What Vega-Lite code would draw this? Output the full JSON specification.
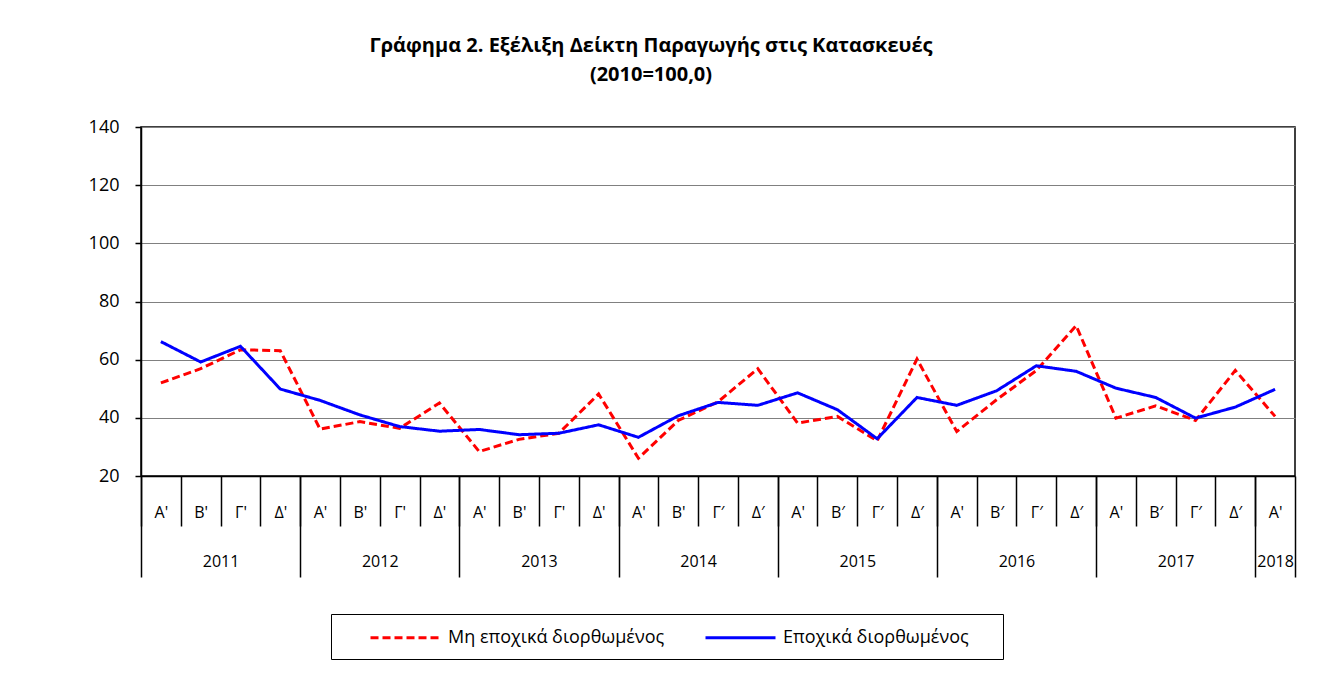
{
  "$schema": "https://vega.github.io/schema/vega-lite/v6.json",
  "width": 1154,
  "height": 349,
  "autosize": {"type": "none"},
  "padding": {"left": 141, "top": 127, "right": 30, "bottom": 199},
  "background": "white",
  "title": {
    "text": ["Γράφημα 2. Εξέλιξη Δείκτη Παραγωγής στις Κατασκευές", "(2010=100,0)"],
    "anchor": "middle",
    "dx": -67,
    "offset": 33,
    "fontSize": 20,
    "fontWeight": "bold",
    "font": "Open Sans",
    "lineHeight": 29,
    "color": "black"
  },
  "config": {
    "font": "Open Sans",
    "view": {"stroke": "black", "strokeWidth": 1.5}
  },
  "data": {
    "values": [
      {"t": 0, "series": "Μη εποχικά διορθωμένος", "value": 52.0},
      {"t": 1, "series": "Μη εποχικά διορθωμένος", "value": 56.9},
      {"t": 2, "series": "Μη εποχικά διορθωμένος", "value": 63.4},
      {"t": 3, "series": "Μη εποχικά διορθωμένος", "value": 63.1},
      {"t": 4, "series": "Μη εποχικά διορθωμένος", "value": 36.1},
      {"t": 5, "series": "Μη εποχικά διορθωμένος", "value": 38.7},
      {"t": 6, "series": "Μη εποχικά διορθωμένος", "value": 36.4},
      {"t": 7, "series": "Μη εποχικά διορθωμένος", "value": 45.1},
      {"t": 8, "series": "Μη εποχικά διορθωμένος", "value": 28.4},
      {"t": 9, "series": "Μη εποχικά διορθωμένος", "value": 32.6},
      {"t": 10, "series": "Μη εποχικά διορθωμένος", "value": 34.7},
      {"t": 11, "series": "Μη εποχικά διορθωμένος", "value": 48.2},
      {"t": 12, "series": "Μη εποχικά διορθωμένος", "value": 26.1},
      {"t": 13, "series": "Μη εποχικά διορθωμένος", "value": 39.1},
      {"t": 14, "series": "Μη εποχικά διορθωμένος", "value": 45.5},
      {"t": 15, "series": "Μη εποχικά διορθωμένος", "value": 56.9},
      {"t": 16, "series": "Μη εποχικά διορθωμένος", "value": 38.2},
      {"t": 17, "series": "Μη εποχικά διορθωμένος", "value": 40.5},
      {"t": 18, "series": "Μη εποχικά διορθωμένος", "value": 32.1},
      {"t": 19, "series": "Μη εποχικά διορθωμένος", "value": 60.2},
      {"t": 20, "series": "Μη εποχικά διορθωμένος", "value": 35.3},
      {"t": 21, "series": "Μη εποχικά διορθωμένος", "value": 46.2},
      {"t": 22, "series": "Μη εποχικά διορθωμένος", "value": 56.3},
      {"t": 23, "series": "Μη εποχικά διορθωμένος", "value": 71.7},
      {"t": 24, "series": "Μη εποχικά διορθωμένος", "value": 39.9},
      {"t": 25, "series": "Μη εποχικά διορθωμένος", "value": 44.1},
      {"t": 26, "series": "Μη εποχικά διορθωμένος", "value": 39.1},
      {"t": 27, "series": "Μη εποχικά διορθωμένος", "value": 56.3},
      {"t": 28, "series": "Μη εποχικά διορθωμένος", "value": 40.5},
      {"t": 0, "series": "Εποχικά διορθωμένος", "value": 66.2},
      {"t": 1, "series": "Εποχικά διορθωμένος", "value": 59.2},
      {"t": 2, "series": "Εποχικά διορθωμένος", "value": 64.6},
      {"t": 3, "series": "Εποχικά διορθωμένος", "value": 49.9},
      {"t": 4, "series": "Εποχικά διορθωμένος", "value": 46.0},
      {"t": 5, "series": "Εποχικά διορθωμένος", "value": 41.0},
      {"t": 6, "series": "Εποχικά διορθωμένος", "value": 37.0},
      {"t": 7, "series": "Εποχικά διορθωμένος", "value": 35.4},
      {"t": 8, "series": "Εποχικά διορθωμένος", "value": 36.0},
      {"t": 9, "series": "Εποχικά διορθωμένος", "value": 34.2},
      {"t": 10, "series": "Εποχικά διορθωμένος", "value": 34.7},
      {"t": 11, "series": "Εποχικά διορθωμένος", "value": 37.6},
      {"t": 12, "series": "Εποχικά διορθωμένος", "value": 33.3},
      {"t": 13, "series": "Εποχικά διορθωμένος", "value": 40.7},
      {"t": 14, "series": "Εποχικά διορθωμένος", "value": 45.3},
      {"t": 15, "series": "Εποχικά διορθωμένος", "value": 44.3},
      {"t": 16, "series": "Εποχικά διορθωμένος", "value": 48.6},
      {"t": 17, "series": "Εποχικά διορθωμένος", "value": 42.8},
      {"t": 18, "series": "Εποχικά διορθωμένος", "value": 32.8},
      {"t": 19, "series": "Εποχικά διορθωμένος", "value": 47.0},
      {"t": 20, "series": "Εποχικά διορθωμένος", "value": 44.3},
      {"t": 21, "series": "Εποχικά διορθωμένος", "value": 49.3},
      {"t": 22, "series": "Εποχικά διορθωμένος", "value": 57.9},
      {"t": 23, "series": "Εποχικά διορθωμένος", "value": 56.0},
      {"t": 24, "series": "Εποχικά διορθωμένος", "value": 50.2},
      {"t": 25, "series": "Εποχικά διορθωμένος", "value": 47.0},
      {"t": 26, "series": "Εποχικά διορθωμένος", "value": 39.9},
      {"t": 27, "series": "Εποχικά διορθωμένος", "value": 43.7},
      {"t": 28, "series": "Εποχικά διορθωμένος", "value": 49.8}
    ]
  },
  "layer": [
    {
      "transform": [{"filter": "datum.series == 'Μη εποχικά διορθωμένος'"}],
      "mark": {"type": "line", "strokeWidth": 3, "strokeCap": "butt"},
      "encoding": {
        "x": {
          "field": "t",
          "type": "quantitative",
          "scale": {"domain": [-0.5, 28.5], "nice": false, "zero": false},
          "axis": {
            "orient": "bottom",
            "title": null,
            "values": [0, 1, 2, 3, 4, 5, 6, 7, 8, 9, 10, 11, 12, 13, 14, 15, 16, 17, 18, 19, 20, 21, 22, 23, 24, 25, 26, 27, 28],
            "grid": false,
            "domain": true,
            "domainColor": "black",
            "domainWidth": 1.5,
            "ticks": true,
            "tickSize": 50,
            "tickColor": "black",
            "tickWidth": 1.5,
            "tickOffset": -19.9,
            "labelOffset": 19.9,
            "labelExpr": "[\"Α'\",\"Β'\",\"Γ'\",\"Δ'\",\"Α'\",\"Β'\",\"Γ'\",\"Δ'\",\"Α'\",\"Β'\",\"Γ'\",\"Δ'\",\"Α'\",\"Β'\",\"Γ′\",\"Δ′\",\"Α'\",\"Β′\",\"Γ′\",\"Δ′\",\"Α'\",\"Β′\",\"Γ′\",\"Δ′\",\"Α'\",\"Β′\",\"Γ′\",\"Δ′\",\"Α'\"][datum.value]",
            "labelBaseline": "middle",
            "labelPadding": -14,
            "labelFontSize": 16,
            "labelColor": "black",
            "labelOverlap": false,
            "labelFlush": false,
            "labelBound": false
          }
        },
        "y": {
          "field": "value",
          "type": "quantitative",
          "scale": {"domain": [20, 140], "nice": false, "zero": false},
          "axis": {
            "title": null,
            "values": [20, 40, 60, 80, 100, 120, 140],
            "grid": true,
            "gridColor": "#808080",
            "gridWidth": 1.2,
            "tickSize": 6,
            "tickColor": "black",
            "tickWidth": 1.5,
            "domainColor": "black",
            "domainWidth": 1.5,
            "labelFontSize": 18,
            "labelColor": "black",
            "labelPadding": 16
          }
        },
        "color": {
          "field": "series",
          "type": "nominal",
          "scale": {"domain": ["Μη εποχικά διορθωμένος", "Εποχικά διορθωμένος"], "range": ["#FF0000", "#0000FF"]},
          "legend": {
            "title": " ",
            "titleOrient": "right",
            "titlePadding": 22,
            "titleFontSize": 4,
            "orient": "none",
            "legendX": 190,
            "legendY": 487,
            "direction": "horizontal",
            "symbolType": "M-3.5,0H3.5",
            "symbolSize": 400,
            "symbolStrokeWidth": 3,
            "symbolOffset": 51,
            "labelFontSize": 18,
            "labelColor": "black",
            "labelLimit": 400,
            "labelOffset": 31,
            "columnPadding": 13,
            "strokeColor": "black",
            "padding": 12
          }
        },
        "strokeDash": {
          "field": "series",
          "type": "nominal",
          "scale": {"domain": ["Μη εποχικά διορθωμένος", "Εποχικά διορθωμένος"], "range": [[8, 4], [1, 0]]},
          "legend": {
            "title": " ",
            "titleOrient": "right",
            "titlePadding": 22,
            "titleFontSize": 4,
            "orient": "none",
            "legendX": 190,
            "legendY": 487,
            "direction": "horizontal",
            "symbolType": "M-3.5,0H3.5",
            "symbolSize": 400,
            "symbolStrokeWidth": 3,
            "symbolOffset": 51,
            "labelFontSize": 18,
            "labelColor": "black",
            "labelLimit": 400,
            "labelOffset": 31,
            "columnPadding": 13,
            "strokeColor": "black",
            "padding": 12
          }
        }
      }
    },
    {
      "transform": [{"filter": "datum.series == 'Εποχικά διορθωμένος'"}],
      "mark": {"type": "line", "strokeWidth": 3, "strokeCap": "butt"},
      "encoding": {
        "x": {
          "field": "t",
          "type": "quantitative",
          "axis": {
            "orient": "bottom",
            "title": null,
            "values": [-0.5, 3.5, 7.5, 11.5, 15.5, 19.5, 23.5, 27.5, 28.5],
            "grid": false,
            "domain": false,
            "ticks": true,
            "tickSize": 101,
            "tickColor": "black",
            "tickWidth": 1.5,
            "labelExpr": "datum.value < 28 ? ['2011','2012','2013','2014','2015','2016','2017','2018'][floor((datum.value + 0.5) / 4)] : ''",
            "labelOffset": {"condition": {"test": "datum.value == 27.5", "value": 19.9}, "value": 79.6},
            "labelBaseline": "middle",
            "labelPadding": -16,
            "labelFontSize": 16,
            "labelColor": "black",
            "labelOverlap": false,
            "labelFlush": false,
            "labelBound": false
          }
        },
        "y": {
          "field": "value",
          "type": "quantitative",
          "axis": {
            "title": null,
            "values": [20, 40, 60, 80, 100, 120, 140],
            "grid": true,
            "gridColor": "#808080",
            "gridWidth": 1.2,
            "tickSize": 6,
            "tickColor": "black",
            "tickWidth": 1.5,
            "domainColor": "black",
            "domainWidth": 1.5,
            "labelFontSize": 18,
            "labelColor": "black",
            "labelPadding": 16
          }
        },
        "color": {"field": "series", "type": "nominal"},
        "strokeDash": {"field": "series", "type": "nominal"}
      }
    }
  ],
  "resolve": {"axis": {"x": "independent"}}
}
